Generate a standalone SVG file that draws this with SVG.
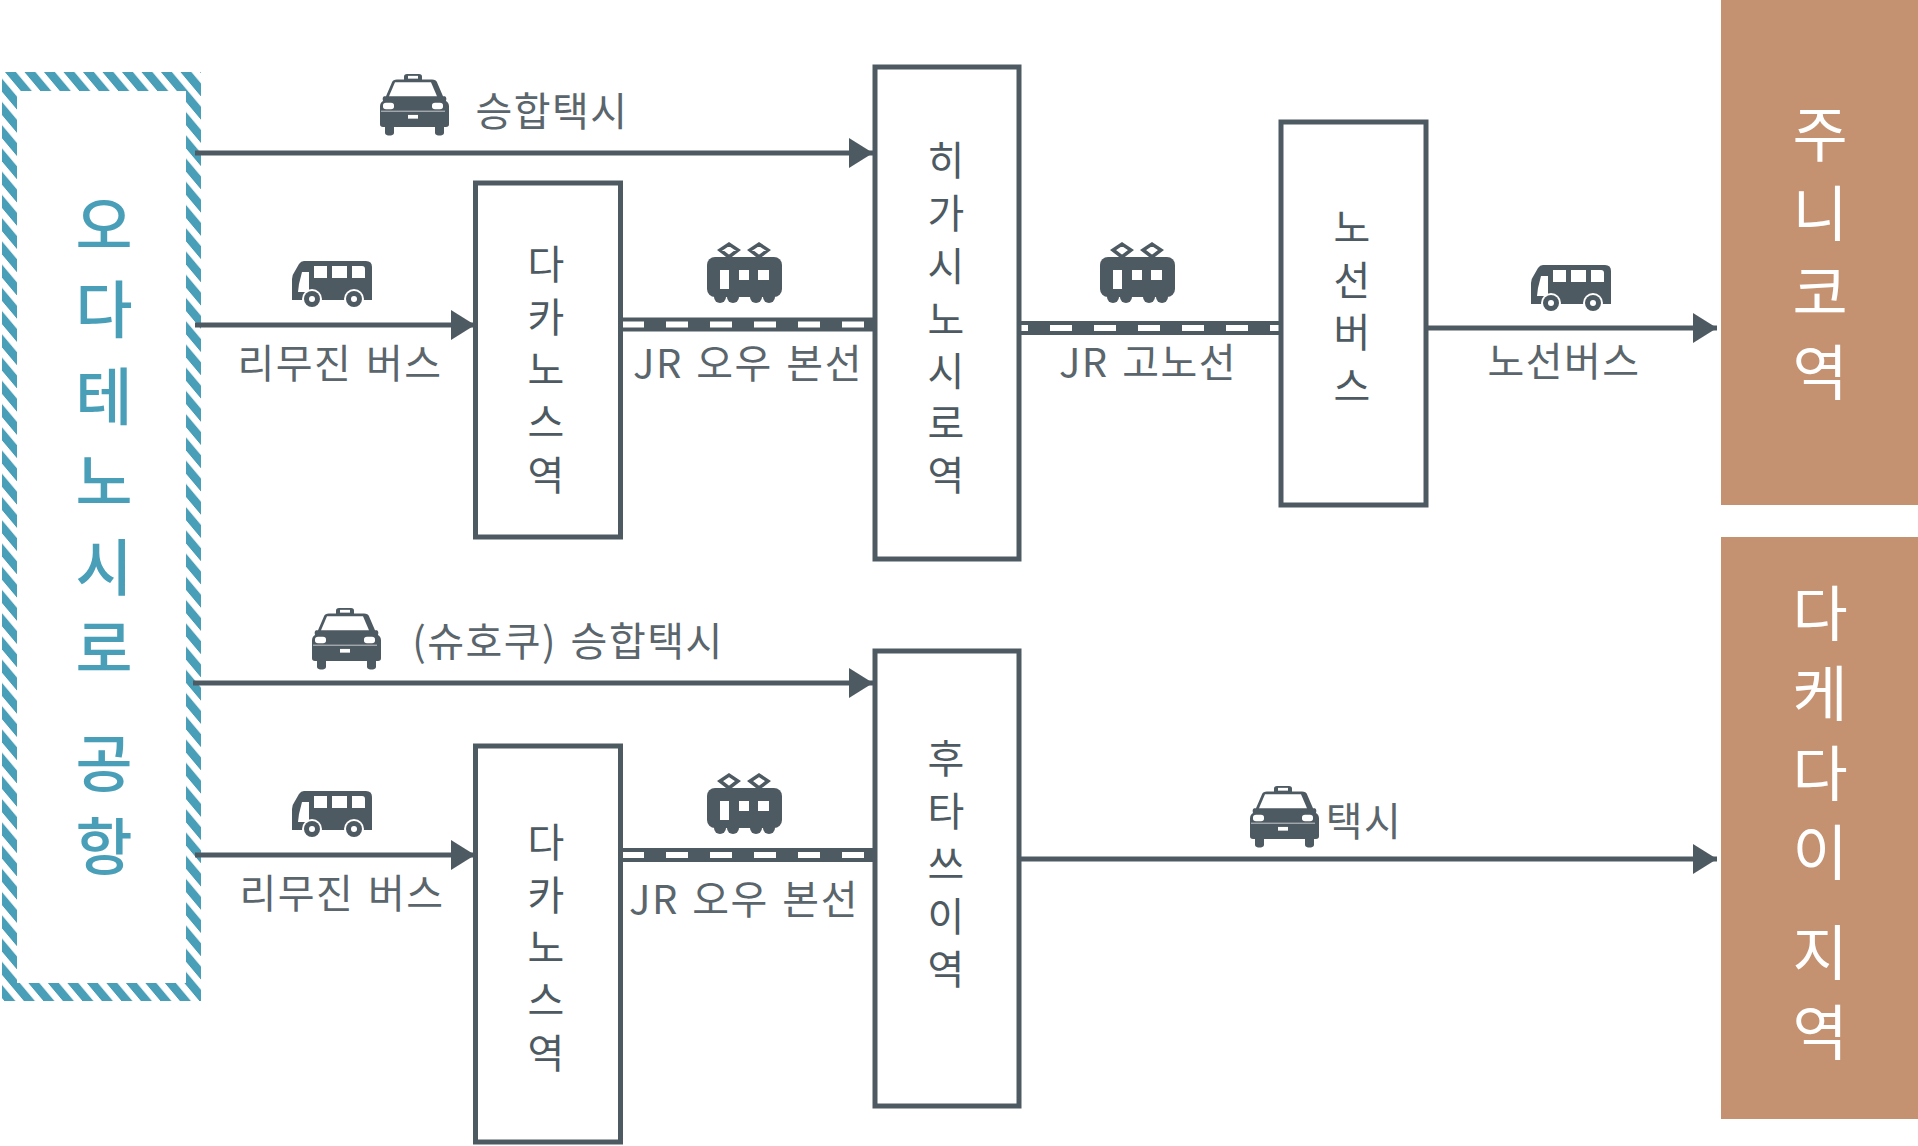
<svg xmlns="http://www.w3.org/2000/svg" width="1918" height="1146" viewBox="0 0 1918 1146">
<style>
text{font-family:"Noto Sans CJK KR","Noto Sans",sans-serif;text-anchor:middle}
.lb{font-size:40px;fill:#5a656c;letter-spacing:1.500px;word-spacing:3px}
.vt{font-size:40px;fill:#4e5a62}
.ap{font-size:62px;font-weight:500;fill:#4a9fb8}
.rg{font-size:60px;fill:#fff}
.bx{fill:#fff;stroke:#4e5a62;stroke-width:5}
.ln{stroke:#4e5a62;stroke-width:5;fill:none}
.ic{fill:#4e5a62}
.w{fill:#fff}
</style>
<defs>
<pattern id="st" patternUnits="userSpaceOnUse" width="19.5" height="10" patternTransform="skewX(40) translate(3 0)"><rect width="11" height="10" fill="#4a9fb8"/></pattern>
<marker id="ar" markerUnits="userSpaceOnUse" markerWidth="25" markerHeight="30" refX="24" refY="15" orient="auto"><path d="M0 0L24 15L0 30Z" fill="#4e5a62"/></marker>
<g id="taxi" transform="scale(1 .93)"><path class="ic" d="M27 0h12q3 0 3 3v3h10q4 0 5 3l6 15h2q2 1 1 5q3 2 3 6v19q0 3-3 3h-2v6q0 3-3 3h-3q-3 0-3-3v-6H14v6q0 3-3 3H8q-3 0-3-3v-6H3q-3 0-3-3V35q0-4 3-6q-1-4 1-5h2l6-15q1-3 5-3h7V3q0-3 3-3z"/><path class="w" d="M15 9h36l6 15H9z"/><rect class="w" x="3" y="31" width="11" height="7" rx="3"/><rect class="w" x="52" y="31" width="11" height="7" rx="3"/><rect class="w" x="28" y="44" width="10" height="4"/><rect class="w" x="28" y="2" width="10" height="3"/><path d="M1 40h64" stroke="#fff" stroke-width=".7"/></g>
<g id="bus"><path class="ic" d="M12 0h62q6 0 6 6v33H0V18q0-4 3-8l4-7q2-3 5-3z"/><path class="w" d="M10 11h7v20H9l-3 0 1-8zM22 5h13v12H22zM40 5h15v12H40zM60 5h10q3 0 3 3v9H60z"/><circle class="w" cx="20" cy="38" r="10"/><circle class="w" cx="62" cy="38" r="10"/><circle class="ic" cx="20" cy="38" r="8"/><circle class="ic" cx="62" cy="38" r="8"/><circle class="w" cx="20" cy="38" r="3"/><circle class="w" cx="62" cy="38" r="3"/></g>
<g id="train"><rect class="ic" x="0" y="15" width="75" height="40" rx="8"/><circle class="ic" cx="13" cy="55" r="6"/><circle class="ic" cx="26" cy="55" r="6"/><circle class="ic" cx="49" cy="55" r="6"/><circle class="ic" cx="62" cy="55" r="6"/><path class="w" d="M13 28h9v19h-9zM32 28h10v10H32zM51 28h11v10H51z"/><path d="M22 15l-9-7 9-6 9 6zM52 15l-9-7 9-6 9 6z" fill="none" stroke="#4e5a62" stroke-width="3.500"/></g>
</defs>
<rect width="1918" height="1146" fill="#fff"/>
<g id="airport">
<path fill="url(#st)" fill-rule="evenodd" d="M2 72H201V1001H2ZM17 91V983H186V91Z"/>
<text class="ap"><tspan x="104" y="249">오</tspan><tspan x="104" y="333">다</tspan><tspan x="104" y="420">테</tspan><tspan x="104" y="505">노</tspan><tspan x="104" y="591">시</tspan><tspan x="104" y="672">로</tspan><tspan x="104" y="787">공</tspan><tspan x="104" y="870">항</tspan></text>
</g>
<g id="connectors">
<path class="ln" d="M195 153H873" marker-end="url(#ar)"/>
<path class="ln" d="M195 325H475" marker-end="url(#ar)"/>
<path class="ln" d="M1426 328H1717" marker-end="url(#ar)"/>
<path class="ln" d="M193 683H873" marker-end="url(#ar)"/>
<path class="ln" d="M195 855H475" marker-end="url(#ar)"/>
<path class="ln" d="M1019 859H1717" marker-end="url(#ar)"/>
<g id="rails">
<path d="M620 324.500H875" stroke="#4e5a62" stroke-width="14"/><path d="M622 324.500H873" stroke="#fff" stroke-width="6" stroke-dasharray="22 22"/>
<path d="M1019 328H1281" stroke="#4e5a62" stroke-width="14"/><path d="M1006 328H1279" stroke="#fff" stroke-width="6" stroke-dasharray="22 22"/>
<path d="M620 855H875" stroke="#4e5a62" stroke-width="14"/><path d="M622 855H873" stroke="#fff" stroke-width="6" stroke-dasharray="22 22"/>
</g>
</g>
<g id="takanosu1"><rect class="bx" x="475.500" y="183" width="145" height="354"/>
<text class="vt"><tspan x="546" y="279">다</tspan><tspan x="546" y="332">카</tspan><tspan x="546" y="384">노</tspan><tspan x="546" y="437">스</tspan><tspan x="546" y="490">역</tspan></text></g>
<g id="higashi"><rect class="bx" x="875" y="67" width="144" height="492"/>
<text class="vt"><tspan x="946" y="175">히</tspan><tspan x="946" y="228">가</tspan><tspan x="946" y="281">시</tspan><tspan x="946" y="334">노</tspan><tspan x="946" y="386">시</tspan><tspan x="946" y="438">로</tspan><tspan x="946" y="490">역</tspan></text></g>
<g id="rosenbus"><rect class="bx" x="1281" y="122" width="145" height="383"/>
<text class="vt"><tspan x="1352" y="242">노</tspan><tspan x="1352" y="295">선</tspan><tspan x="1352" y="347">버</tspan><tspan x="1352" y="401">스</tspan></text></g>
<g id="takanosu2"><rect class="bx" x="475.500" y="746" width="145" height="396"/>
<text class="vt"><tspan x="546" y="857">다</tspan><tspan x="546" y="910">카</tspan><tspan x="546" y="962">노</tspan><tspan x="546" y="1015">스</tspan><tspan x="546" y="1068">역</tspan></text></g>
<g id="futatsui"><rect class="bx" x="875" y="651" width="144" height="455"/>
<text class="vt"><tspan x="946" y="773">후</tspan><tspan x="946" y="826">타</tspan><tspan x="946" y="879">쓰</tspan><tspan x="946" y="931">이</tspan><tspan x="946" y="984">역</tspan></text></g>
<g id="junikko"><rect x="1721" y="0" width="197" height="505" fill="#c49270"/>
<text class="rg"><tspan x="1820" y="157">주</tspan><tspan x="1820" y="236">니</tspan><tspan x="1820" y="315">코</tspan><tspan x="1820" y="395">역</tspan></text></g>
<g id="takedai"><rect x="1721" y="537" width="197" height="582" fill="#c49270"/>
<text class="rg"><tspan x="1820" y="636">다</tspan><tspan x="1820" y="716">케</tspan><tspan x="1820" y="796">다</tspan><tspan x="1820" y="875">이</tspan><tspan x="1820" y="975">지</tspan><tspan x="1820" y="1055">역</tspan></text></g>
<g id="labels">
<text class="lb" x="552" y="126">승합택시</text>
<text class="lb" x="340" y="378">리무진 버스</text>
<text class="lb" x="748" y="378">JR 오우 본선</text>
<text class="lb" x="1148" y="377">JR 고노선</text>
<text class="lb" x="1564" y="376">노선버스</text>
<text class="lb" x="568" y="656">(슈호쿠) 승합택시</text>
<text class="lb" x="342" y="908">리무진 버스</text>
<text class="lb" x="744" y="914">JR 오우 본선</text>
<text class="lb" x="1364" y="836">택시</text>
</g>
<g id="icons">
<use href="#taxi" x="380" y="74"/>
<use href="#bus" x="292" y="261"/>
<use href="#train" x="707" y="242"/>
<use href="#train" x="1100" y="242"/>
<use href="#bus" x="1531" y="265"/>
<use href="#taxi" x="312" y="608"/>
<use href="#bus" x="292" y="791"/>
<use href="#train" x="707" y="773"/>
<use href="#taxi" x="1250" y="786"/>
</g>
</svg>
